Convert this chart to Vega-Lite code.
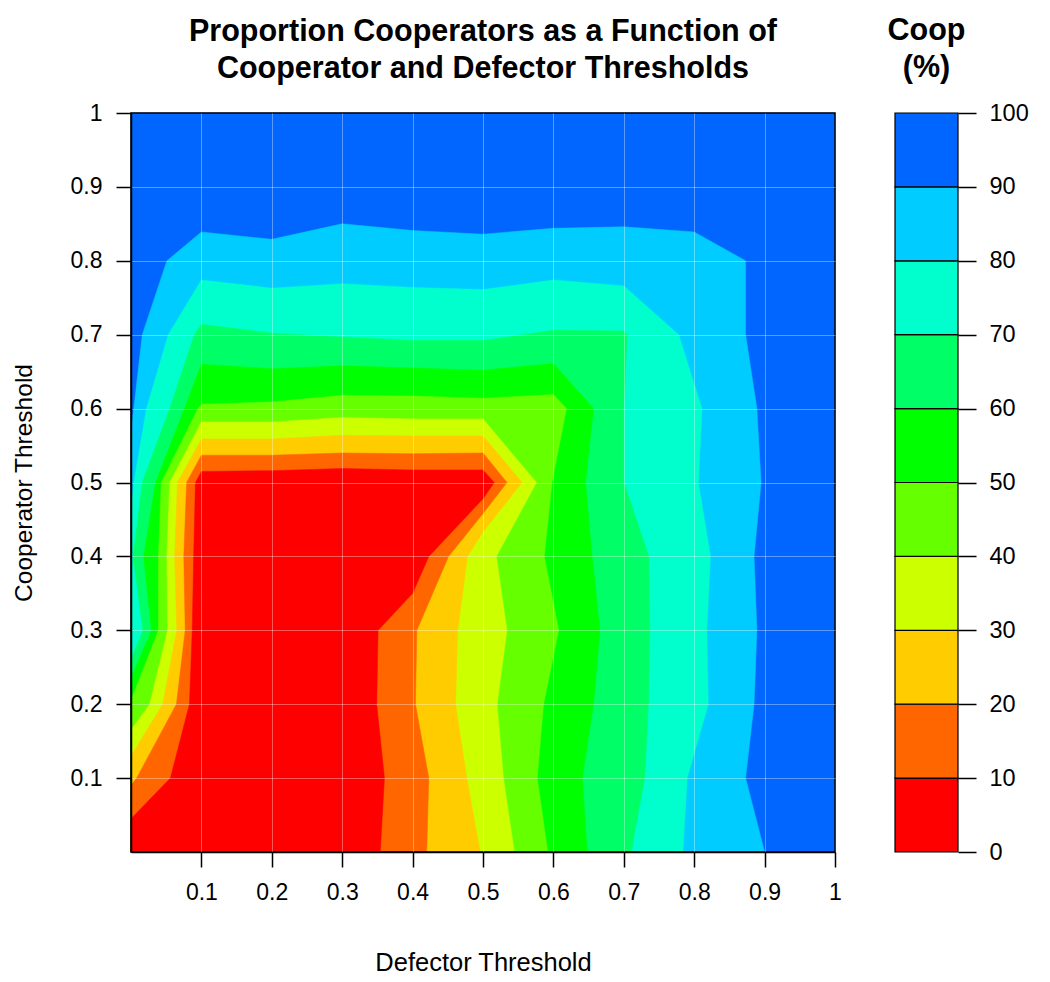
{
  "$schema": "https://vega.github.io/schema/vega-lite/v6.json",
  "padding": {"left": 11, "top": 15, "right": 0, "bottom": 0},
  "bounds": "flush",
  "spacing": 60,
  "config": {"font": "Liberation Sans", "view": {"stroke": null}},
  "hconcat": [
    {
      "width": 704,
      "height": 739,
      "title": {"text": ["Proportion Cooperators as a Function of", "Cooperator and Defector Thresholds"], "fontSize": 30.5, "fontWeight": "bold", "lineHeight": 37, "anchor": "middle", "frame": "group", "offset": 18, "color": "black"},
      "data": {"values": [
        {"lev":100,"i":0,"x":0,"y":0},{"lev":100,"i":1,"x":0,"y":1},{"lev":100,"i":2,"x":1,"y":1},{"lev":100,"i":3,"x":1,"y":0},
        {"lev":90,"i":0,"x":0,"y":0},{"lev":90,"i":1,"x":0,"y":0.57},{"lev":90,"i":2,"x":0.004,"y":0.6},{"lev":90,"i":3,"x":0.016,"y":0.7},{"lev":90,"i":4,"x":0.051,"y":0.8},{"lev":90,"i":5,"x":0.1,"y":0.839},{"lev":90,"i":6,"x":0.2,"y":0.829},{"lev":90,"i":7,"x":0.3,"y":0.85},{"lev":90,"i":8,"x":0.4,"y":0.841},{"lev":90,"i":9,"x":0.5,"y":0.836},{"lev":90,"i":10,"x":0.6,"y":0.844},{"lev":90,"i":11,"x":0.7,"y":0.846},{"lev":90,"i":12,"x":0.8,"y":0.839},{"lev":90,"i":13,"x":0.873,"y":0.8},{"lev":90,"i":14,"x":0.873,"y":0.7},{"lev":90,"i":15,"x":0.889,"y":0.6},{"lev":90,"i":16,"x":0.895,"y":0.5},{"lev":90,"i":17,"x":0.885,"y":0.4},{"lev":90,"i":18,"x":0.889,"y":0.3},{"lev":90,"i":19,"x":0.885,"y":0.2},{"lev":90,"i":20,"x":0.873,"y":0.1},{"lev":90,"i":21,"x":0.9,"y":0},
        {"lev":80,"i":0,"x":0,"y":0},{"lev":80,"i":1,"x":0,"y":0.46},{"lev":80,"i":2,"x":0.004,"y":0.5},{"lev":80,"i":3,"x":0.022,"y":0.6},{"lev":80,"i":4,"x":0.053,"y":0.7},{"lev":80,"i":5,"x":0.1,"y":0.774},{"lev":80,"i":6,"x":0.2,"y":0.763},{"lev":80,"i":7,"x":0.3,"y":0.769},{"lev":80,"i":8,"x":0.4,"y":0.764},{"lev":80,"i":9,"x":0.5,"y":0.761},{"lev":80,"i":10,"x":0.6,"y":0.774},{"lev":80,"i":11,"x":0.7,"y":0.766},{"lev":80,"i":12,"x":0.778,"y":0.7},{"lev":80,"i":13,"x":0.811,"y":0.6},{"lev":80,"i":14,"x":0.806,"y":0.5},{"lev":80,"i":15,"x":0.823,"y":0.4},{"lev":80,"i":16,"x":0.818,"y":0.3},{"lev":80,"i":17,"x":0.82,"y":0.2},{"lev":80,"i":18,"x":0.79,"y":0.1},{"lev":80,"i":19,"x":0.784,"y":0},
        {"lev":70,"i":0,"x":0,"y":0},{"lev":70,"i":1,"x":0,"y":0.26},{"lev":70,"i":2,"x":0.017,"y":0.3},{"lev":70,"i":3,"x":0.003,"y":0.4},{"lev":70,"i":4,"x":0.016,"y":0.5},{"lev":70,"i":5,"x":0.055,"y":0.6},{"lev":70,"i":6,"x":0.09,"y":0.7},{"lev":70,"i":7,"x":0.1,"y":0.714},{"lev":70,"i":8,"x":0.2,"y":0.702},{"lev":70,"i":9,"x":0.3,"y":0.697},{"lev":70,"i":10,"x":0.4,"y":0.692},{"lev":70,"i":11,"x":0.5,"y":0.692},{"lev":70,"i":12,"x":0.6,"y":0.706},{"lev":70,"i":13,"x":0.7,"y":0.705},{"lev":70,"i":14,"x":0.7045,"y":0.7},{"lev":70,"i":15,"x":0.7,"y":0.6},{"lev":70,"i":16,"x":0.7,"y":0.5},{"lev":70,"i":17,"x":0.7355,"y":0.4},{"lev":70,"i":18,"x":0.737,"y":0.3},{"lev":70,"i":19,"x":0.735,"y":0.2},{"lev":70,"i":20,"x":0.7295,"y":0.1},{"lev":70,"i":21,"x":0.7104,"y":0},
        {"lev":60,"i":0,"x":0,"y":0},{"lev":60,"i":1,"x":0,"y":0.235},{"lev":60,"i":2,"x":0.029,"y":0.3},{"lev":60,"i":3,"x":0.018,"y":0.4},{"lev":60,"i":4,"x":0.035,"y":0.5},{"lev":60,"i":5,"x":0.076,"y":0.6},{"lev":60,"i":6,"x":0.1,"y":0.66},{"lev":60,"i":7,"x":0.2,"y":0.654},{"lev":60,"i":8,"x":0.3,"y":0.658},{"lev":60,"i":9,"x":0.4,"y":0.655},{"lev":60,"i":10,"x":0.5,"y":0.652},{"lev":60,"i":11,"x":0.6,"y":0.661},{"lev":60,"i":12,"x":0.657,"y":0.6},{"lev":60,"i":13,"x":0.6455,"y":0.5},{"lev":60,"i":14,"x":0.655,"y":0.4},{"lev":60,"i":15,"x":0.666,"y":0.3},{"lev":60,"i":16,"x":0.657,"y":0.2},{"lev":60,"i":17,"x":0.641,"y":0.1},{"lev":60,"i":18,"x":0.648,"y":0},
        {"lev":50,"i":0,"x":0,"y":0},{"lev":50,"i":1,"x":0,"y":0.205},{"lev":50,"i":2,"x":0.039,"y":0.3},{"lev":50,"i":3,"x":0.039,"y":0.4},{"lev":50,"i":4,"x":0.043,"y":0.5},{"lev":50,"i":5,"x":0.095,"y":0.6},{"lev":50,"i":6,"x":0.1,"y":0.606},{"lev":50,"i":7,"x":0.2,"y":0.609},{"lev":50,"i":8,"x":0.3,"y":0.618},{"lev":50,"i":9,"x":0.4,"y":0.617},{"lev":50,"i":10,"x":0.5,"y":0.614},{"lev":50,"i":11,"x":0.6,"y":0.619},{"lev":50,"i":12,"x":0.6185,"y":0.6},{"lev":50,"i":13,"x":0.598,"y":0.5},{"lev":50,"i":14,"x":0.587,"y":0.4},{"lev":50,"i":15,"x":0.6075,"y":0.3},{"lev":50,"i":16,"x":0.586,"y":0.2},{"lev":50,"i":17,"x":0.577,"y":0.1},{"lev":50,"i":18,"x":0.592,"y":0},
        {"lev":40,"i":0,"x":0,"y":0},{"lev":40,"i":1,"x":0,"y":0.165},{"lev":40,"i":2,"x":0.0265,"y":0.2},{"lev":40,"i":3,"x":0.052,"y":0.3},{"lev":40,"i":4,"x":0.051,"y":0.4},{"lev":40,"i":5,"x":0.055,"y":0.5},{"lev":40,"i":6,"x":0.1,"y":0.582},{"lev":40,"i":7,"x":0.2,"y":0.582},{"lev":40,"i":8,"x":0.3,"y":0.588},{"lev":40,"i":9,"x":0.4,"y":0.586},{"lev":40,"i":10,"x":0.5,"y":0.586},{"lev":40,"i":11,"x":0.576,"y":0.5},{"lev":40,"i":12,"x":0.519,"y":0.4},{"lev":40,"i":13,"x":0.534,"y":0.3},{"lev":40,"i":14,"x":0.52,"y":0.2},{"lev":40,"i":15,"x":0.529,"y":0.1},{"lev":40,"i":16,"x":0.5445,"y":0},
        {"lev":30,"i":0,"x":0,"y":0},{"lev":30,"i":1,"x":0,"y":0.13},{"lev":30,"i":2,"x":0.045,"y":0.2},{"lev":30,"i":3,"x":0.065,"y":0.3},{"lev":30,"i":4,"x":0.062,"y":0.4},{"lev":30,"i":5,"x":0.066,"y":0.5},{"lev":30,"i":6,"x":0.1,"y":0.559},{"lev":30,"i":7,"x":0.2,"y":0.559},{"lev":30,"i":8,"x":0.3,"y":0.564},{"lev":30,"i":9,"x":0.4,"y":0.563},{"lev":30,"i":10,"x":0.5,"y":0.563},{"lev":30,"i":11,"x":0.5555,"y":0.5},{"lev":30,"i":12,"x":0.5,"y":0.433},{"lev":30,"i":13,"x":0.478,"y":0.4},{"lev":30,"i":14,"x":0.464,"y":0.3},{"lev":30,"i":15,"x":0.461,"y":0.2},{"lev":30,"i":16,"x":0.477,"y":0.1},{"lev":30,"i":17,"x":0.496,"y":0},
        {"lev":20,"i":0,"x":0,"y":0},{"lev":20,"i":1,"x":0,"y":0.09},{"lev":20,"i":2,"x":0.008,"y":0.1},{"lev":20,"i":3,"x":0.0645,"y":0.2},{"lev":20,"i":4,"x":0.077,"y":0.3},{"lev":20,"i":5,"x":0.075,"y":0.4},{"lev":20,"i":6,"x":0.079,"y":0.5},{"lev":20,"i":7,"x":0.1,"y":0.537},{"lev":20,"i":8,"x":0.2,"y":0.537},{"lev":20,"i":9,"x":0.3,"y":0.54},{"lev":20,"i":10,"x":0.4,"y":0.539},{"lev":20,"i":11,"x":0.5,"y":0.54},{"lev":20,"i":12,"x":0.534,"y":0.5},{"lev":20,"i":13,"x":0.5,"y":0.458},{"lev":20,"i":14,"x":0.451,"y":0.4},{"lev":20,"i":15,"x":0.406,"y":0.3},{"lev":20,"i":16,"x":0.404,"y":0.2},{"lev":20,"i":17,"x":0.423,"y":0.1},{"lev":20,"i":18,"x":0.42,"y":0},
        {"lev":10,"i":0,"x":0,"y":0},{"lev":10,"i":1,"x":0,"y":0.045},{"lev":10,"i":2,"x":0.056,"y":0.1},{"lev":10,"i":3,"x":0.083,"y":0.2},{"lev":10,"i":4,"x":0.087,"y":0.3},{"lev":10,"i":5,"x":0.089,"y":0.4},{"lev":10,"i":6,"x":0.0915,"y":0.5},{"lev":10,"i":7,"x":0.1,"y":0.515},{"lev":10,"i":8,"x":0.2,"y":0.516},{"lev":10,"i":9,"x":0.3,"y":0.519},{"lev":10,"i":10,"x":0.4,"y":0.517},{"lev":10,"i":11,"x":0.5,"y":0.517},{"lev":10,"i":12,"x":0.516,"y":0.5},{"lev":10,"i":13,"x":0.5,"y":0.478},{"lev":10,"i":14,"x":0.423,"y":0.4},{"lev":10,"i":15,"x":0.4,"y":0.35},{"lev":10,"i":16,"x":0.351,"y":0.3},{"lev":10,"i":17,"x":0.349,"y":0.2},{"lev":10,"i":18,"x":0.36,"y":0.1},{"lev":10,"i":19,"x":0.354,"y":0}
      ]},
      "encoding": {
        "x": {"field": "x", "type": "quantitative", "scale": {"domain": [0, 1], "nice": false, "zero": false},
          "axis": {"values": [0.1,0.2,0.3,0.4,0.5,0.6,0.7,0.8,0.9,1], "format": "~g", "title": "Defector Threshold", "tickSize": 15, "labelPadding": 14, "labelFontSize": 23, "labelFont": "Liberation Sans", "titleFont": "Liberation Sans", "titleFontSize": 25.5, "titleFontWeight": "normal", "titleY": 110, "titleBaseline": "middle", "grid": true, "gridColor": "white", "gridOpacity": {"condition": {"test": "datum.value >= 1", "value": 0}, "value": 0.35}, "gridWidth": 1, "domainColor": "black", "domainWidth": 1.5, "tickColor": "black", "tickWidth": 1.5, "labelColor": "black", "titleColor": "black", "zindex": 1, "labelFlush": false, "labelOverlap": false}},
        "y": {"field": "y", "type": "quantitative", "scale": {"domain": [0, 1], "nice": false, "zero": false},
          "axis": {"values": [0.1,0.2,0.3,0.4,0.5,0.6,0.7,0.8,0.9,1], "format": "~g", "title": "Cooperator Threshold", "tickSize": 15, "labelPadding": 14, "labelFontSize": 23, "labelFont": "Liberation Sans", "titleFont": "Liberation Sans", "titleFontSize": 24.5, "titleFontWeight": "normal", "titleX": -107, "titleY": 369.5, "titleAlign": "center", "titleBaseline": "middle", "titleAngle": -90, "grid": true, "gridColor": "white", "gridOpacity": {"condition": {"test": "datum.value >= 1", "value": 0}, "value": 0.35}, "gridWidth": 1, "domainColor": "black", "domainWidth": 1.5, "tickColor": "black", "tickWidth": 1.5, "labelColor": "black", "titleColor": "black", "zindex": 1, "labelFlush": false, "labelOverlap": false}},
        "order": {"field": "i", "type": "quantitative"}
      },
      "layer": [
        {"transform": [{"filter": "datum.lev == 100"}], "mark": {"type": "line", "fill": "#0066FF", "stroke": "#0066FF", "strokeWidth": 0.5}},
        {"transform": [{"filter": "datum.lev == 90"}], "mark": {"type": "line", "fill": "#00CCFF", "stroke": "#00CCFF", "strokeWidth": 0.5}},
        {"transform": [{"filter": "datum.lev == 80"}], "mark": {"type": "line", "fill": "#00FFCC", "stroke": "#00FFCC", "strokeWidth": 0.5}},
        {"transform": [{"filter": "datum.lev == 70"}], "mark": {"type": "line", "fill": "#00FF66", "stroke": "#00FF66", "strokeWidth": 0.5}},
        {"transform": [{"filter": "datum.lev == 60"}], "mark": {"type": "line", "fill": "#00FF00", "stroke": "#00FF00", "strokeWidth": 0.5}},
        {"transform": [{"filter": "datum.lev == 50"}], "mark": {"type": "line", "fill": "#66FF00", "stroke": "#66FF00", "strokeWidth": 0.5}},
        {"transform": [{"filter": "datum.lev == 40"}], "mark": {"type": "line", "fill": "#CCFF00", "stroke": "#CCFF00", "strokeWidth": 0.5}},
        {"transform": [{"filter": "datum.lev == 30"}], "mark": {"type": "line", "fill": "#FFCC00", "stroke": "#FFCC00", "strokeWidth": 0.5}},
        {"transform": [{"filter": "datum.lev == 20"}], "mark": {"type": "line", "fill": "#FF6600", "stroke": "#FF6600", "strokeWidth": 0.5}},
        {"transform": [{"filter": "datum.lev == 10"}], "mark": {"type": "line", "fill": "#FF0000", "stroke": "#FF0000", "strokeWidth": 0.5}},
        {"transform": [{"filter": "datum.lev == 100 && datum.i == 0"}], "mark": {"type": "rect", "fill": null, "stroke": "black", "strokeWidth": 1.5},
          "encoding": {"x": {"datum": 0}, "x2": {"datum": 1}, "y": {"datum": 0}, "y2": {"datum": 1}}}
      ]
    },
    {
      "width": 63,
      "height": 739,
      "title": {"text": ["Coop", "(%)"], "fontSize": 30.5, "fontWeight": "bold", "lineHeight": 37, "anchor": "middle", "frame": "group", "offset": 18, "color": "black"},
      "data": {"values": [
        {"lo": 0, "hi": 10, "band": "0-10"},
        {"lo": 10, "hi": 20, "band": "10-20"},
        {"lo": 20, "hi": 30, "band": "20-30"},
        {"lo": 30, "hi": 40, "band": "30-40"},
        {"lo": 40, "hi": 50, "band": "40-50"},
        {"lo": 50, "hi": 60, "band": "50-60"},
        {"lo": 60, "hi": 70, "band": "60-70"},
        {"lo": 70, "hi": 80, "band": "70-80"},
        {"lo": 80, "hi": 90, "band": "80-90"},
        {"lo": 90, "hi": 100, "band": "90-100"}
      ]},
      "mark": {"type": "rect", "stroke": "black", "strokeWidth": 1.2},
      "encoding": {
        "y": {"field": "lo", "type": "quantitative", "scale": {"domain": [0, 100], "nice": false},
          "axis": {"orient": "right", "values": [0,10,20,30,40,50,60,70,80,90,100], "format": "d", "title": null, "tickSize": 18, "labelPadding": 13, "labelFontSize": 23.5, "labelFont": "Liberation Sans", "labelColor": "black", "tickColor": "black", "tickWidth": 1.5, "domain": false, "grid": false, "labelFlush": false, "labelOverlap": false}},
        "y2": {"field": "hi"},
        "x": {"datum": 0, "type": "quantitative", "scale": {"domain": [0, 1]}, "axis": null},
        "x2": {"datum": 1},
        "fill": {"field": "band", "type": "nominal", "legend": null,
          "scale": {"domain": ["0-10","10-20","20-30","30-40","40-50","50-60","60-70","70-80","80-90","90-100"],
                    "range": ["#FF0000","#FF6600","#FFCC00","#CCFF00","#66FF00","#00FF00","#00FF66","#00FFCC","#00CCFF","#0066FF"]}}
      }
    }
  ]
}
